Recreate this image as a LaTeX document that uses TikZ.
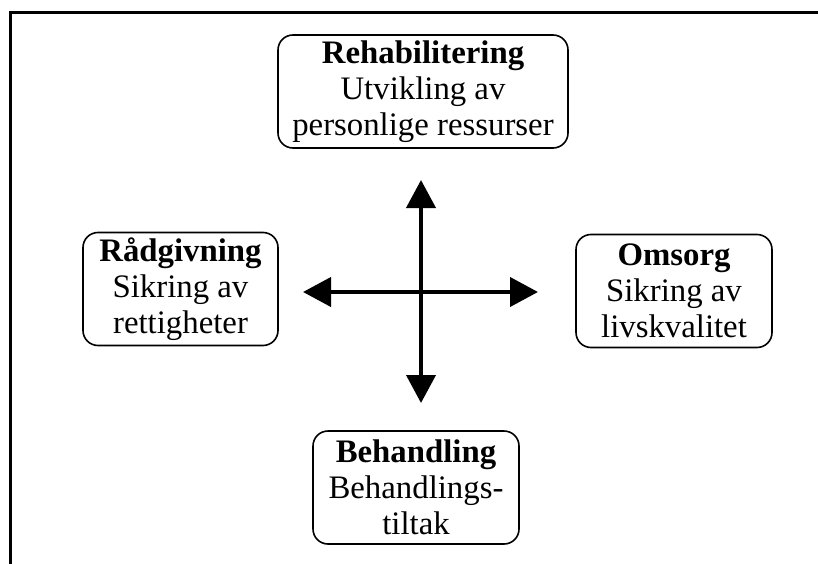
\documentclass[tikz,border=0pt]{standalone}
\usepackage{fontspec}
\setmainfont{Liberation Serif}
\usetikzlibrary{arrows.meta}
\begin{document}
\begin{tikzpicture}[
    x=1pt,y=-1pt,
    box/.style={draw,rounded corners=15pt,line width=1.6pt,align=center,inner sep=0pt,
                minimum height=113pt,font=\fontsize{32.8}{36}\selectfont},
    arr/.style={-{Triangle[length=28pt,width=29pt]},line width=4pt}
]
\useasboundingbox (0,0) rectangle (818,564);
\draw[line width=3pt] (10,564) -- (10,13) -- (818,13);
\node[box,minimum width=290pt] (rehab) at (423,91.5) {\textbf{Rehabilitering}\\Utvikling av\\personlige ressurser};
\node[box,minimum width=195pt] (raad) at (180.5,289) {\textbf{Rådgivning}\\Sikring av\\rettigheter};
\node[box,minimum width=196pt] (omsorg) at (674,291) {\textbf{Omsorg}\\Sikring av\\livskvalitet};
\node[box,minimum width=206pt] (behand) at (416,487.5) {\textbf{Behandling}\\Behandlings-\\tiltak};
\coordinate (mid) at (421,292);
\coordinate (up) at (421,180);
\coordinate (down) at (421,403);
\coordinate (left) at (303,292);
\coordinate (right) at (538,292);
\draw[arr] (mid) -- (up);
\draw[arr] (mid) -- (down);
\draw[arr] (mid) -- (left);
\draw[arr] (mid) -- (right);
\end{tikzpicture}
\end{document}
